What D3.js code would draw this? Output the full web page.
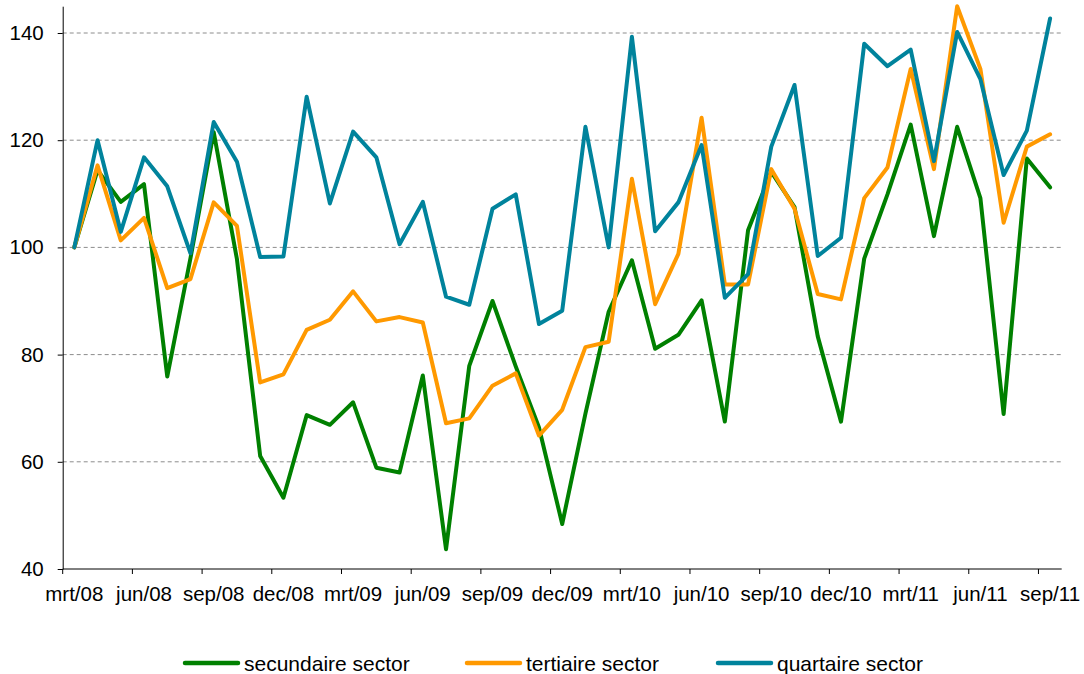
<!DOCTYPE html>
<html>
<head>
<meta charset="utf-8">
<script src="https://cdnjs.cloudflare.com/ajax/libs/d3/7.8.5/d3.min.js"></script>
<style>
  body { margin: 0; background: #fff; }
  svg text { font-family: "Liberation Sans", Arial, sans-serif; fill: #000; }
</style>
</head>
<body>
<svg id="chart" width="1084" height="674"></svg>
<script>
// months mrt/08 .. sep/11
var months = ["mrt/08","apr/08","mei/08","jun/08","jul/08","aug/08","sep/08","okt/08","nov/08","dec/08",
  "jan/09","feb/09","mrt/09","apr/09","mei/09","jun/09","jul/09","aug/09","sep/09","okt/09","nov/09","dec/09",
  "jan/10","feb/10","mrt/10","apr/10","mei/10","jun/10","jul/10","aug/10","sep/10","okt/10","nov/10","dec/10",
  "jan/11","feb/11","mrt/11","apr/11","mei/11","jun/11","jul/11","aug/11","sep/11"];

var secundaire = [100, 114.4, 108.5, 111.8, 75.9, 98, 121.5, 97.8, 61.1, 53.3,
  68.7, 66.9, 71.1, 58.9, 58, 76.1, 43.7, 77.9, 90, 77.8, 66.4, 48.4,
  69, 88, 97.6, 81.1, 83.7, 90.1, 67.5, 103.2, 114.1, 107.5, 83.4, 67.5,
  97.9, 109.9, 122.9, 102.1, 122.5, 109.2, 68.9, 116.6, 111.2];

var tertiaire = [100, 115.3, 101.3, 105.5, 92.4, 94.1, 108.4, 104, 74.8, 76.3,
  84.6, 86.5, 91.8, 86.2, 87, 86, 67.2, 68.1, 74.2, 76.5, 64.9, 69.7,
  81.4, 82.4, 112.8, 89.4, 98.8, 124.2, 93.1, 93.1, 114.6, 107.2, 91.3, 90.3,
  109.2, 114.9, 133.3, 114.6, 145, 133.3, 104.6, 118.8, 121.1];

var quartaire = [100, 120, 102.9, 116.8, 111.4, 98.9, 123.4, 116, 98.2, 98.3,
  128.1, 108.2, 121.6, 116.8, 100.6, 108.5, 90.8, 89.3, 107.2, 109.9, 85.7, 88.2,
  122.5, 100, 139.3, 103, 108.4, 119.1, 90.6, 95, 118.8, 130.3, 98.4, 101.8,
  138, 133.8, 136.9, 116.1, 140.2, 131.4, 113.5, 121.8, 142.7];

var yTicks = [40, 60, 80, 100, 120, 140];
var seriesNames = ["secundaire sector", "tertiaire sector", "quartaire sector"];
var seriesColors = ["#008000", "#ff9900", "#00839c"];

var svg = d3.select("#chart");

var x = d3.scaleBand()
  .domain(d3.range(months.length))
  .range([62.7, 1061.7]);

var y = d3.scaleLinear()
  .domain([40, 145])
  .range([569, 6.2]);

// gridlines
svg.append("g")
  .selectAll("line")
  .data(yTicks.slice(1))
  .enter()
  .append("line")
    .attr("x1", x.range()[0])
    .attr("x2", x.range()[1])
    .attr("y1", function(d){ return y(d) })
    .attr("y2", function(d){ return y(d) })
    .style("stroke", "#8c8c8c")
    .style("stroke-width", 1)
    .style("stroke-dasharray", "4,3")

// y axis
var yAxis = svg.append("g")
  .attr("transform", "translate(" + x.range()[0] + ",0)")
  .call(d3.axisLeft(y).tickValues(yTicks).tickSize(5).tickSizeOuter(0).tickPadding(14).tickFormat(d3.format("d")))
yAxis.selectAll("text").style("font-size", "20.5px").style("font-family", "Liberation Sans, Arial, sans-serif")
yAxis.selectAll("line, path").style("stroke", "#000")

// x axis: ticks between every 3rd category, labels on the category
var xg = svg.append("g")
xg.append("line")
  .attr("x1", x.range()[0]).attr("x2", x.range()[1])
  .attr("y1", y(40)).attr("y2", y(40))
  .style("stroke", "#000")

var labelIdx = d3.range(0, months.length, 3);

xg.selectAll("ticks")
  .data(labelIdx)
  .enter()
  .append("line")
    .attr("x1", function(d){ return x(d) })
    .attr("x2", function(d){ return x(d) })
    .attr("y1", y(40))
    .attr("y2", y(40) + 5)
    .style("stroke", "#000")

xg.selectAll("labels")
  .data(labelIdx)
  .enter()
  .append("text")
    .attr("x", function(d){ return x(d) + x.bandwidth() / 2 })
    .attr("y", 601)
    .attr("text-anchor", "middle")
    .style("font-size", "20.5px")
    .text(function(d){ return months[d] })

// lines
var line = d3.line()
  .x(function(d, i){ return x(i) + x.bandwidth() / 2 })
  .y(function(d){ return y(d) })

var series = [secundaire, tertiaire, quartaire];

svg.append("g")
  .selectAll("path")
  .data(series)
  .enter()
  .append("path")
    .attr("d", function(d){ return line(d) })
    .style("fill", "none")
    .style("stroke", function(d, i){ return seriesColors[i] })
    .style("stroke-width", 4)
    .style("stroke-linejoin", "round")
    .style("stroke-linecap", "round")

// legend
var legendX = [185, 467, 718];
var legend = svg.append("g")

legend.selectAll("keys")
  .data(seriesNames)
  .enter()
  .append("line")
    .attr("x1", function(d, i){ return legendX[i] })
    .attr("x2", function(d, i){ return legendX[i] + 53 })
    .attr("y1", 663)
    .attr("y2", 663)
    .style("stroke", function(d, i){ return seriesColors[i] })
    .style("stroke-width", 4.5)
    .style("stroke-linecap", "round")

legend.selectAll("names")
  .data(seriesNames)
  .enter()
  .append("text")
    .attr("x", function(d, i){ return legendX[i] + 59 })
    .attr("y", 671)
    .style("font-size", "21px")
    .text(function(d){ return d })
</script>
</body>
</html>
